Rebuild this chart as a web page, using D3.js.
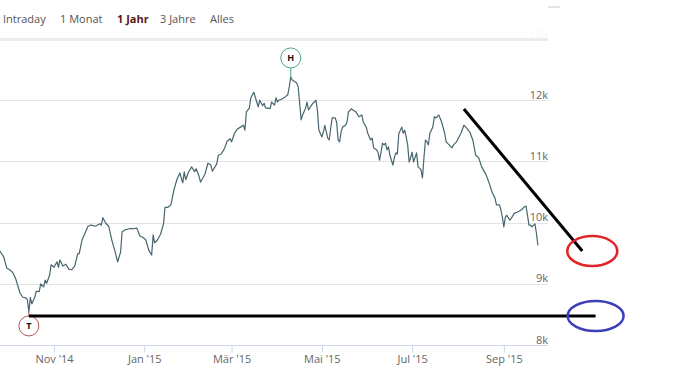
<!DOCTYPE html>
<html>
<head>
<meta charset="utf-8">
<script src="https://cdn.jsdelivr.net/npm/d3@7"></script>
<style>
  body { margin: 0; background: #fff; }
  svg { display: block; font-family: "Open Sans", sans-serif; }
</style>
</head>
<body>
<div id="chart"></div>
<script>
// Zeitraum-Auswahl oben
const tabs = ["Intraday", "1 Monat", "1 Jahr", "3 Jahre", "Alles"];
const activeTab = "1 Jahr";

// Kursverlauf (1 Jahr), Tage seit Startdatum + Schlusskurse
const startDate = new Date(2014, 8, 25);
const dayOffsets = [
  0, 3, 5, 7, 9, 11, 12, 14, 16, 18, 19, 20, 21, 22, 24, 25, 27, 28, 30, 31,
  32, 34, 35, 37, 39, 40, 41, 43, 45, 47, 49, 51, 53, 54, 56, 58, 60, 62, 65, 68,
  69, 70, 72, 74, 75, 76, 78, 80, 82, 83, 85, 88, 91, 93, 95, 97, 99, 101, 103, 104,
  105, 107, 109, 111, 112, 114, 116, 118, 120, 122, 124, 125, 126, 128, 130, 132, 133, 135, 136, 139,
  141, 143, 144, 147, 148, 150, 152, 154, 156, 157, 159, 161, 163, 165, 166, 167, 169, 170, 172, 174,
  175, 176, 178, 179, 180, 182, 183, 184, 186, 187, 188, 189, 191, 193, 195, 196, 197, 198, 201, 202,
  204, 205, 207, 208, 209, 211, 212, 213, 214, 215, 216, 218, 219, 220, 222, 223, 224, 225, 227, 228,
  229, 230, 231, 232, 234, 235, 236, 238, 239, 241, 243, 245, 246, 248, 249, 251, 252, 253, 255, 256,
  257, 258, 259, 260, 261, 262, 263, 264, 266, 267, 268, 269, 270, 272, 273, 274, 275, 276, 277, 278,
  279, 280, 282, 283, 284, 285, 286, 287, 288, 289, 290, 291, 293, 294, 295, 296, 297, 299, 301, 302,
  304, 306, 307, 309, 312, 314, 316, 318, 320, 322, 324, 326, 329, 331, 333, 335, 336, 338, 339, 340,
  341, 342, 343, 345, 346, 348, 350, 353, 355, 356, 358, 359, 360, 362, 363, 364
];
const closes = [
  9550, 9440, 9260, 9230, 9190, 9090, 9010, 8850, 8780, 8770, 8740, 8540, 8780, 8670, 8780, 8880, 8870, 9000, 8950, 9060,
  9010, 9140, 9310, 9270, 9360, 9270, 9390, 9290, 9320, 9240, 9230, 9290, 9490, 9490, 9720, 9830, 9940, 9960, 9940, 9980,
  9960, 10080, 9990, 9940, 9830, 9720, 9550, 9360, 9520, 9850, 9880, 9900, 9900, 9910, 9780, 9760, 9720, 9550, 9470, 9800,
  9670, 9720, 9810, 9980, 10250, 10250, 10290, 10530, 10700, 10810, 10650, 10830, 10700, 10830, 10910, 10830, 10880, 10760, 10660, 10790,
  10970, 10940, 10840, 10960, 11100, 11120, 11200, 11330, 11370, 11320, 11460, 11530, 11560, 11590, 11510, 11810, 11870, 12040, 12130, 11970,
  11890, 12000, 11910, 11950, 11870, 11870, 11860, 11970, 11920, 12040, 11970, 12000, 12020, 12050, 12090, 12220, 12380, 12330, 12280, 12220,
  11680, 11760, 11870, 11970, 11840, 11920, 11950, 11970, 12000, 11840, 11510, 11400, 11480, 11590, 11380, 11350, 11550, 11710, 11710, 11640,
  11350, 11320, 11480, 11560, 11590, 11640, 11810, 11860, 11840, 11810, 11730, 11760, 11640, 11560, 11460, 11350, 11380, 11220, 11190, 11140,
  11020, 11150, 11300, 11270, 11300, 11190, 11240, 11100, 10940, 11060, 11140, 11120, 11450, 11560, 11460, 11510, 11400, 11270, 10990, 11060,
  11150, 10990, 11140, 10910, 10890, 10860, 10730, 11060, 11350, 11320, 11270, 11460, 11560, 11730, 11710, 11730, 11760, 11640, 11460, 11320,
  11270, 11220, 11270, 11320, 11460, 11590, 11540, 11480, 11350, 11100, 11060, 10910, 10780, 10650, 10500, 10400, 10290, 10290, 10210, 10090,
  9930, 10090, 10120, 10040, 10070, 10150, 10170, 10210, 10260, 10270, 9960, 9960, 9930, 9980, 9830, 9630
];

// Achsen
const yTicks = [8000, 9000, 10000, 11000, 12000, 13000];
const yTickLabels = ["8k", "9k", "10k", "11k", "12k", "13k"];
const xTicks = [new Date(2014, 10, 1), new Date(2015, 0, 1), new Date(2015, 2, 1),
                new Date(2015, 4, 1), new Date(2015, 6, 1), new Date(2015, 8, 1)];
const xTickLabels = ["Nov '14", "Jan '15", "Mär '15", "Mai '15", "Jul '15", "Sep '15"];

// Handgezeichnete Markierungen (Datum, Kurs)
const supportLine = [[new Date(2014, 9, 15), 8475], [new Date(2015, 10, 2), 8475]];
const trendLine = [[new Date(2015, 7, 5), 11855], [new Date(2015, 9, 24), 9535]];

const width = 682, height = 378;
const svg = d3.select("#chart").append("svg")
  .attr("width", width)
  .attr("height", height);

const data = dayOffsets.map((d, i) => ({ date: d3.timeDay.offset(startDate, d), value: closes[i] }));

const x = d3.scaleTime()
  .domain([new Date(2014, 8, 25, 12), new Date(2015, 8, 30, 20)])
  .range([0, 548]);
const y = d3.scaleLinear().domain([8000, 13000]).range([345, 39]);

// Tabs
let tx = 3;
const tabGap = [57, 57, 43, 50, 0];
tabs.forEach((t, i) => {
  svg.append("text")
    .attr("x", tx).attr("y", 23)
    .attr("font-size", 11)
    .attr("font-weight", t === activeTab ? "bold" : "normal")
    .attr("fill", t === activeTab ? "#5e1515" : "#555")
    .text(t);
  tx += tabGap[i];
});
svg.append("line")
  .attr("x1", 548).attr("x2", 560).attr("y1", 7).attr("y2", 7)
  .attr("stroke", "#ccc");

// Gitterlinien
svg.selectAll("line.grid")
  .data(yTicks.slice(1))
  .enter().append("line")
  .attr("class", "grid")
  .attr("x1", 0).attr("x2", 548)
  .attr("y1", d => Math.round(y(d)) + 0.5)
  .attr("y2", d => Math.round(y(d)) + 0.5)
  .attr("stroke", d => d === 13000 ? "#ececec" : "#e3e3e3")
  .attr("stroke-width", d => d === 13000 ? 3 : 1);

svg.selectAll("text.ylab")
  .data(yTicks)
  .enter().append("text")
  .attr("class", "ylab")
  .attr("x", 548)
  .attr("y", d => y(d) - 1.5)
  .attr("text-anchor", "end")
  .attr("font-size", 11)
  .attr("fill", "#666")
  .attr("opacity", d => d === 13000 ? 0.04 : 1)
  .text((d, i) => yTickLabels[i]);

// x-Achse
const xAxis = svg.append("g")
  .attr("transform", `translate(0,${Math.round(y(8000)) + 0.5})`)
  .call(d3.axisBottom(x).tickValues(xTicks).tickSize(7).tickPadding(3)
    .tickFormat((d, i) => xTickLabels[i]));
xAxis.select(".domain").attr("stroke", "#ccd6eb").attr("d", "M0,0H548");
xAxis.selectAll(".tick line").attr("stroke", "#ccd6eb");
xAxis.selectAll(".tick text").attr("fill", "#666").attr("font-size", 11)
  .attr("font-family", "Open Sans, sans-serif");

// Kurslinie
const line = d3.line()
  .x(d => x(d.date))
  .y(d => y(d.value));
svg.append("path")
  .datum(data)
  .attr("d", line)
  .attr("fill", "none")
  .attr("stroke", "#46666f")
  .attr("stroke-width", 1.2)
  .attr("stroke-linejoin", "round");

// Hoch / Tief Marker
const low = data[d3.minIndex(data, d => d.value)];
const high = data[d3.maxIndex(data, d => d.value)];
const flags = [
  { p: low, label: "T", color: "#b05a5a", dy: 14 },
  { p: high, label: "H", color: "#4aa88a", dy: -19 }
];
flags.forEach(f => {
  const cx = x(f.p.date), cy = y(f.p.value) + f.dy;
  svg.append("line")
    .attr("x1", cx).attr("x2", cx)
    .attr("y1", y(f.p.value))
    .attr("y2", cy + (f.dy > 0 ? -10 : 10))
    .attr("stroke", f.color);
  svg.append("circle")
    .attr("cx", cx).attr("cy", cy).attr("r", 10)
    .attr("fill", "#fff")
    .attr("stroke", f.color);
  svg.append("text")
    .attr("x", cx).attr("y", cy + 3.5)
    .attr("text-anchor", "middle")
    .attr("font-size", 9).attr("font-weight", "bold")
    .attr("fill", "#111")
    .text(f.label);
});

// Markierungen
[supportLine, trendLine].forEach(l => {
  svg.append("line")
    .attr("x1", x(l[0][0])).attr("y1", y(l[0][1]))
    .attr("x2", x(l[1][0])).attr("y2", y(l[1][1]))
    .attr("stroke", "#000")
    .attr("stroke-width", 3);
});
svg.append("ellipse")
  .attr("cx", x(trendLine[1][0]) + 10).attr("cy", y(trendLine[1][1]))
  .attr("rx", 25).attr("ry", 15)
  .attr("fill", "none").attr("stroke", "#e02428").attr("stroke-width", 2.5);
svg.append("ellipse")
  .attr("cx", x(supportLine[1][0])).attr("cy", y(supportLine[1][1]))
  .attr("rx", 28).attr("ry", 15)
  .attr("fill", "none").attr("stroke", "#3c3fb8").attr("stroke-width", 2.5);
</script>
</body>
</html>
